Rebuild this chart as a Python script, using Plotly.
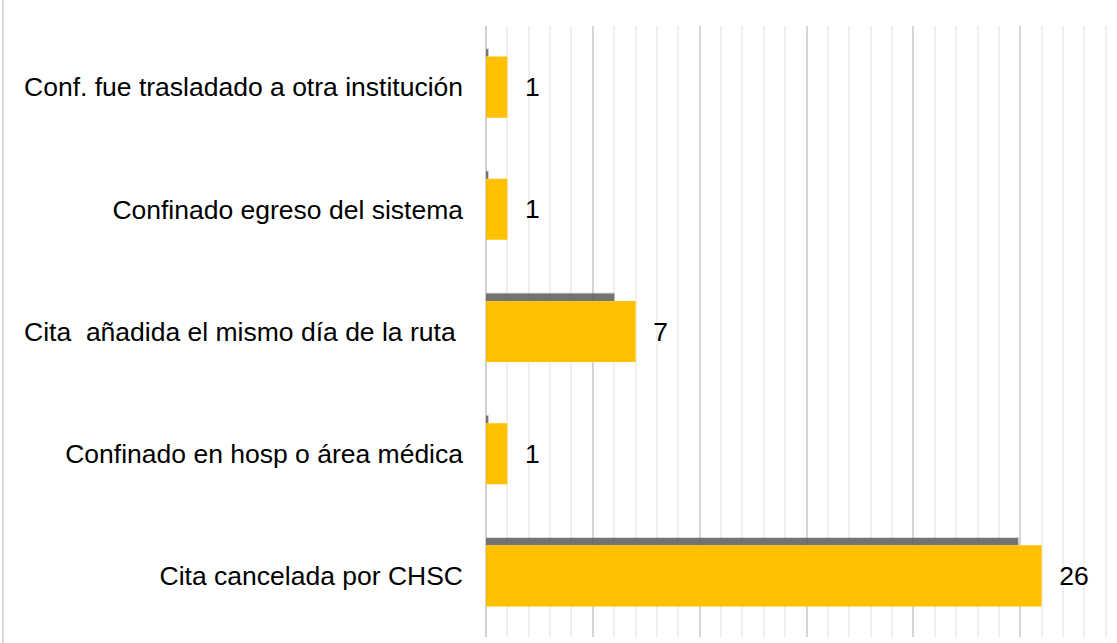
import plotly.graph_objects as go

categorias = [
    "Cita cancelada por CHSC",
    "Confinado en hosp o área médica",
    "Cita  añadida el mismo día de la ruta ",
    "Confinado egreso del sistema",
    "Conf. fue trasladado a otra institución",
]
valores = [26, 1, 7, 1, 1]
# sombra gris que se ve encima de algunas barras
sombra = [24.9, 0.1, 6.0, 0.1, 0.1]

FONT = "Liberation Sans, Arial, sans-serif"

fig = go.Figure()
fig.add_trace(go.Bar(
    y=categorias, x=sombra, orientation="h",
    width=0.06, offset=0.25,
    marker=dict(color="rgba(90,90,90,0.85)",
                line=dict(color="rgba(130,130,130,0.35)", width=1.5)),
    hoverinfo="skip", showlegend=False,
))
fig.add_trace(go.Bar(
    y=categorias, x=valores, orientation="h",
    width=0.5, offset=-0.25,
    marker=dict(color="#FFC000", line=dict(width=0)),
    text=["  " + str(v) for v in valores],
    textposition="outside", cliponaxis=False,
    textfont=dict(size=26.5, color="#000000", family=FONT),
    showlegend=False,
))

fig.update_layout(
    width=1117, height=643,
    margin=dict(l=486, r=7, t=26, b=6, autoexpand=False),
    paper_bgcolor="white", plot_bgcolor="white",
    font=dict(family=FONT, size=26.5, color="#000000"),
    barmode="overlay",
    shapes=[dict(type="line", xref="paper", yref="paper",
                 x0=-0.774, x1=-0.774, y0=-0.01, y1=1.05,
                 line=dict(color="#d9d9d9", width=2))],
)
fig.update_xaxes(
    range=[0, 29.2], dtick=5, showticklabels=False,
    showgrid=True, gridcolor="#d6d6d6", gridwidth=2,
    minor=dict(dtick=1, showgrid=True, gridcolor="#efefef", gridwidth=2),
    zeroline=True, zerolinecolor="#d0d0d0", zerolinewidth=2,
    showline=False, automargin=False,
)
fig.update_yaxes(
    categoryorder="array", categoryarray=categorias,
    range=[-0.5, 4.5], showgrid=False, showline=False, zeroline=False,
    ticks="", ticklabelstandoff=22, automargin=False,
    tickfont=dict(size=26.5, color="#000000", family=FONT),
)

fig.write_html("out.html", config={"displayModeBar": False},
               post_script="document.body.style.margin='0';")
